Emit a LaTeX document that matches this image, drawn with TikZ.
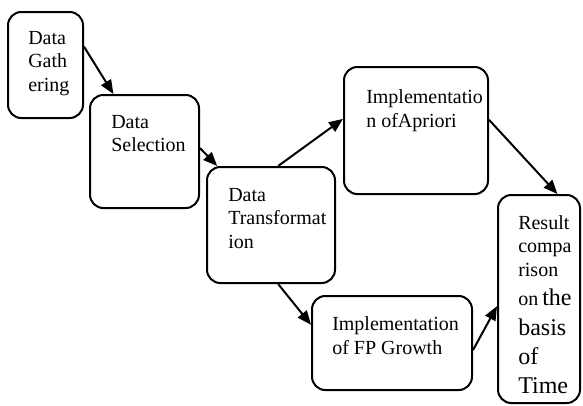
\documentclass[tikz,border=0pt]{standalone}
\usepackage{fontspec}
\setmainfont{Liberation Serif}
\usetikzlibrary{arrows.meta,calc}

\tikzset{
  stage/.style={draw, line width=1.5pt, rounded corners=10pt, inner sep=0pt},
  caption/.style={anchor=north west, inner sep=0pt, align=left,
    font=\fontsize{15pt}{17.6pt}\selectfont},
  flow/.style={line width=1.5pt, -{Triangle[length=10.5pt,width=8.5pt]}},
}
% box from its left/top/right/bottom, all in pixel units
\newcommand\stagebox[5]{%
  \node[stage, minimum width={(#4-#2)*0.75pt}, minimum height={(#5-#3)*0.75pt}]
    (#1) at ({(#2+#4)/2},{(#3+#5)/2}) {};}

\begin{document}
\begin{tikzpicture}[x=0.75pt,y=-0.75pt]
  \useasboundingbox (0,0) rectangle (583,405);

  % stages
  \stagebox{gather}{8}{12}{83}{118}
  \stagebox{select}{90}{95}{199}{208}
  \stagebox{transform}{207}{167}{335}{283}
  \stagebox{apriori}{344}{67}{488}{194}
  \stagebox{fpgrowth}{312}{296}{472}{390}
  \stagebox{result}{498}{195}{580}{403}

  % labels
  \node[caption] (tgather) at (28,31) {Data\\Gath\\ering};
  \node[caption] (tselect) at (111,115) {Data\\Selection};
  \node[caption] (ttransform) at (228,188) {Data\\Transformat\\ion};
  \node[caption] (tapriori) at (366,89.5) {Implementatio\\n ofApriori};
  \node[caption] (tfpgrowth) at (332,316.5) {Implementation\\of FP Growth};
  \node[caption] (tresult) at (518,215) {Result\\compa\\rison\\[4.6pt]%
    on{\fontsize{18pt}{17.6pt}\selectfont\,the}\\[4.6pt]%
    {\fontsize{18pt}{17.6pt}\selectfont basis}\\[4.6pt]%
    {\fontsize{18pt}{17.6pt}\selectfont of}\\[4pt]%
    {\fontsize{18pt}{17.6pt}\selectfont Time}};

  % flow
  \draw[flow] ($(gather.north east)!0.33!(gather.south east)$)
           -- ($(select.north west)!0.22!(select.north east)$);
  \draw[flow] ($(select.north east)!0.47!(select.south east)$)
           -- ($(transform.north west)!0.086!(transform.north east)$);
  \draw[flow] ($(transform.north west)!0.555!(transform.north east)$)
           -- ($(apriori.north west)!0.41!(apriori.south west)$);
  \draw[flow] ($(apriori.north east)!0.417!(apriori.south east)$)
           -- ($(result.north west)!0.72!(result.north east)$);
  \draw[flow] ($(transform.south west)!0.555!(transform.south east)$)
           -- ($(fpgrowth.north west)!0.31!(fpgrowth.south west)$);
  \draw[flow] ($(fpgrowth.north east)!0.574!(fpgrowth.south east)$)
           -- ($(result.north west)!0.534!(result.south west)$);
\end{tikzpicture}
\end{document}
